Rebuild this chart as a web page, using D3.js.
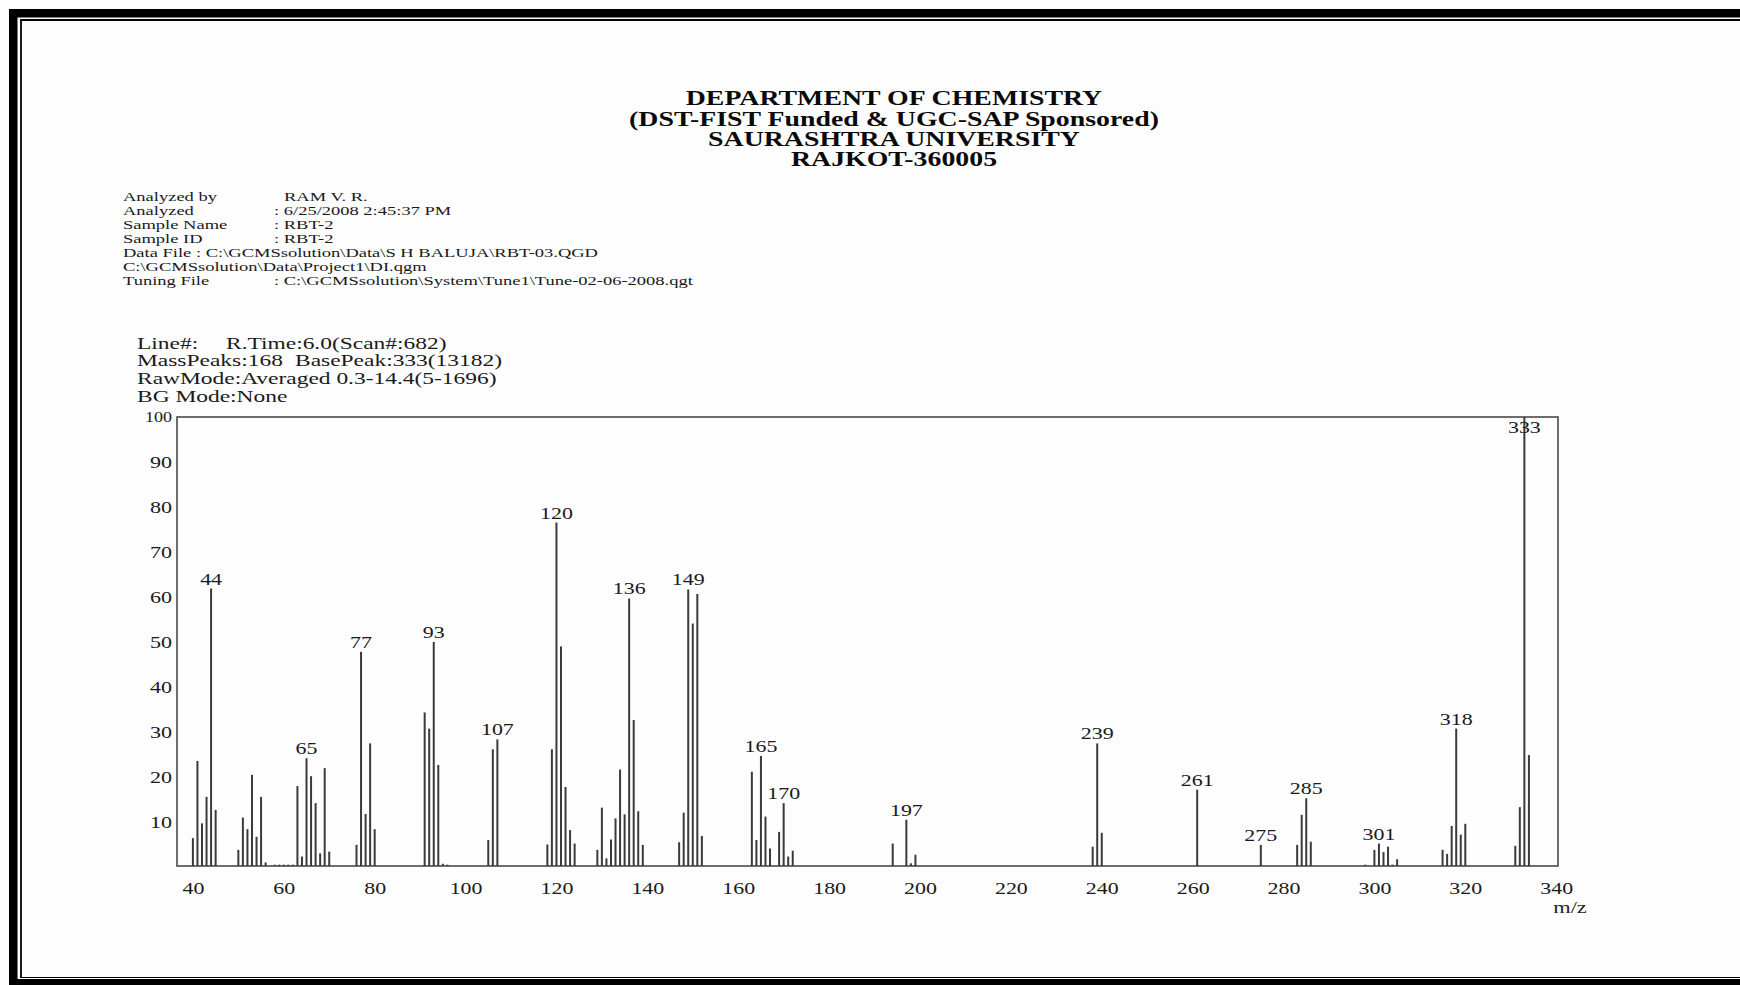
<!DOCTYPE html>
<html>
<head>
<meta charset="utf-8">
<script src="https://cdn.jsdelivr.net/npm/d3@7"></script>
<style>
  html, body { margin: 0; padding: 0; background: #fdfdfd; }
  svg { display: block; }
</style>
</head>
<body>
<svg id="chart" width="1740" height="985"></svg>
<script>
// ---- Mass spectrum of RBT-2 (relative intensity, %) ----
const massNumbers = [
  40, 41, 42, 43, 44, 45,
  50, 51, 52, 53, 54, 55, 56, 58, 59, 60, 61, 62,
  63, 64, 65, 66, 67, 68, 69, 70,
  76, 77, 78, 79, 80,
  91, 92, 93, 94, 95, 96,
  105, 106, 107,
  118, 119, 120, 121, 122, 123, 124,
  129, 130, 131, 132, 133, 134, 135, 136, 137, 138, 139,
  147, 148, 149, 150, 151, 152,
  163, 164, 165, 166, 167, 169, 170, 171, 172,
  194, 197, 198, 199,
  238, 239, 240,
  261,
  275,
  283, 284, 285, 286,
  298, 300, 301, 302, 303, 304, 305,
  315, 316, 317, 318, 319, 320,
  331, 332, 333, 334
];
const intensities = [
  6.2, 23.4, 9.5, 15.4, 61.8, 12.5,
  3.6, 10.8, 8.2, 20.3, 6.5, 15.4, 0.8, 0.3, 0.3, 0.3, 0.3, 0.3,
  17.8, 2.1, 24.0, 20.0, 14.0, 2.8, 21.8, 3.2,
  4.7, 47.7, 11.6, 27.3, 8.2,
  34.2, 30.6, 49.9, 22.5, 0.5, 0.3,
  5.8, 26.0, 28.2,
  4.8, 26.0, 76.5, 48.9, 17.6, 8.0, 5.0,
  3.6, 13.0, 1.7, 5.9, 10.6, 21.5, 11.5, 59.6, 32.5, 12.2, 4.7,
  5.3, 11.9, 61.6, 54.0, 60.6, 6.7,
  21.0, 5.8, 24.5, 11.0, 3.9, 7.6, 14.0, 2.1, 3.4,
  5.0, 10.3, 0.6, 2.5,
  4.3, 27.3, 7.4,
  17.0,
  4.7,
  4.7, 11.4, 15.1, 5.4,
  0.3, 3.6, 5.0, 3.1, 4.3, 0.3, 1.5,
  3.6, 2.7, 8.9, 30.6, 7.0, 9.4,
  4.5, 13.1, 100, 24.7
];
const labelledPeaks = [44, 65, 77, 93, 107, 120, 136, 149, 165, 170, 197, 239, 261, 275, 285, 301, 318, 333];
const xTickValues = [40, 60, 80, 100, 120, 140, 160, 180, 200, 220, 240, 260, 280, 300, 320, 340];
const yTickValues = [10, 20, 30, 40, 50, 60, 70, 80, 90, 100];
const xAxisTitle = "m/z";

// ---- Report header texts ----
const titleLines = [
  "DEPARTMENT OF CHEMISTRY",
  "(DST-FIST Funded & UGC-SAP Sponsored)",
  "SAURASHTRA UNIVERSITY",
  "RAJKOT-360005"
];
const hiddenCaption = "Sample Information";
const infoLabels = ["Analyzed by", "Analyzed", "Sample Name", "Sample ID",
  "Data File : C:\\GCMSsolution\\Data\\S H BALUJA\\RBT-03.QGD",
  "C:\\GCMSsolution\\Data\\Project1\\DI.qgm", "Tuning File"];
const infoValues = ["RAM V. R.", ": 6/25/2008 2:45:37 PM", ": RBT-2", ": RBT-2", "", "",
  ": C:\\GCMSsolution\\System\\Tune1\\Tune-02-06-2008.qgt"];
const scanLine1 = ["Line#:", "R.Time:6.0(Scan#:682)"];
const scanLine2 = ["MassPeaks:168", "BasePeak:333(13182)"];
const scanLines = ["RawMode:Averaged 0.3-14.4(5-1696)", "BG Mode:None"];

// ---- Layout ----
const W = 1740, H = 985;
const plot = { left: 177, right: 1558, top: 417, bottom: 866 };
const SERIF = "'Liberation Serif', 'Times New Roman', Times, serif";

const svg = d3.select("#chart");
svg.append("rect").attr("width", W).attr("height", H).attr("fill", "#fdfdfd");

// Horizontally stretched print-style text
function ptext(parent, str, x, y, o) {
  return parent.append("text")
    .attr("transform", `translate(${x},${y}) scale(${o.sx || 1},1)`)
    .attr("text-anchor", o.anchor || "start")
    .attr("fill", o.fill || "#111")
    .style("font-family", o.family || SERIF)
    .style("font-size", (o.size || 16) + "px")
    .style("font-weight", o.weight || "normal")
    .text(str);
}

// ---- Page border ----
const border = svg.append("g");
border.append("rect").attr("x", 9).attr("y", 9).attr("width", W - 9).attr("height", 8.5).attr("fill", "#000");
border.append("rect").attr("x", 9).attr("y", 9).attr("width", 8.5).attr("height", H - 9).attr("fill", "#000");
border.append("rect").attr("x", 9).attr("y", 979).attr("width", W - 9).attr("height", 6).attr("fill", "#000");
border.append("line").attr("x1", 20).attr("x2", W).attr("y1", 20).attr("y2", 20).attr("stroke", "#000").attr("stroke-width", 1.8);
border.append("line").attr("x1", 21).attr("x2", 21).attr("y1", 20).attr("y2", 978).attr("stroke", "#000").attr("stroke-width", 1.8);
border.append("line").attr("x1", 20).attr("x2", W).attr("y1", 977.5).attr("y2", 977.5).attr("stroke", "#000").attr("stroke-width", 1.2);

// ---- Title block ----
const head = svg.append("g");
svg.append("clipPath").attr("id", "capClip").append("rect")
  .attr("x", 700).attr("y", 170).attr("width", 400).attr("height", 10);
ptext(head, hiddenCaption, 902, 179, { size: 13, sx: 1.37, anchor: "middle", fill: "#8a8a8a" })
  .attr("clip-path", "url(#capClip)");
const titleY = [105, 125.5, 146, 166];
titleLines.forEach((t, i) => {
  ptext(head, t, 894, titleY[i], { size: 22, weight: "bold", sx: 1.265, anchor: "middle", fill: "#0a0a0a" });
});

// ---- Sample information ----
const info = svg.append("g");
infoLabels.forEach((t, i) => {
  const y = 201 + 14 * i;
  ptext(info, t, 123, y, { size: 13.5, sx: 1.37, fill: "#1a1a1a" });
  if (infoValues[i]) {
    const vx = infoValues[i].startsWith(":") ? 274 : 284;
    ptext(info, infoValues[i], vx, y, { size: 13.5, sx: 1.37, fill: "#1a1a1a" });
  }
});

// ---- Scan information ----
const scan = svg.append("g");
ptext(scan, scanLine1[0], 137, 348.5, { size: 17, sx: 1.38, fill: "#1a1a1a" });
ptext(scan, scanLine1[1], 226, 348.5, { size: 17, sx: 1.38, fill: "#1a1a1a" });
ptext(scan, scanLine2[0], 137, 366, { size: 17, sx: 1.38, fill: "#1a1a1a" });
ptext(scan, scanLine2[1], 295, 366, { size: 17, sx: 1.38, fill: "#1a1a1a" });
scanLines.forEach((t, i) => ptext(scan, t, 137, 384 + 18 * i, { size: 17, sx: 1.38, fill: "#1a1a1a" }));

// ---- Scales ----
const x = d3.scaleLinear().domain([36.5, 340.4]).range([plot.left, plot.right]);
const y = d3.scaleLinear().domain([0, 100]).range([plot.bottom, plot.top]);

// ---- Plot frame ----
const frame = svg.append("g");
frame.append("rect")
  .attr("x", plot.left).attr("y", plot.top)
  .attr("width", plot.right - plot.left).attr("height", plot.bottom - plot.top)
  .attr("fill", "none").attr("stroke", "#4a4a4a").attr("stroke-width", 1.6);

// ---- Axes (labels only, no tick marks) ----
const xAxis = d3.axisBottom(x).tickValues(xTickValues).tickSize(0).tickPadding(0).tickFormat(d3.format("d"));
const gx = svg.append("g").attr("transform", `translate(0,${plot.bottom})`).call(xAxis);
gx.select(".domain").remove();
gx.selectAll(".tick text").remove();
gx.selectAll(".tick").each(function (d) {
  ptext(d3.select(this), String(d), 0, 27.5, { size: 17, sx: 1.29, anchor: "middle", fill: "#1a1a1a" });
});

const yAxis = d3.axisLeft(y).tickValues(yTickValues).tickSize(0).tickPadding(0);
const gy = svg.append("g").attr("transform", `translate(${plot.left - 5},0)`).call(yAxis);
gy.select(".domain").remove();
gy.selectAll(".tick text").remove();
gy.selectAll(".tick").each(function (d) {
  const big = d === 100;
  ptext(d3.select(this), String(d), 0, big ? 4 : 6, { size: big ? 15 : 17, sx: big ? 1.2 : 1.3, anchor: "end", fill: "#1a1a1a" });
});

ptext(svg, xAxisTitle, 1570, 913, { size: 16, sx: 1.4, anchor: "middle", fill: "#222" });

// ---- Peaks ----
const peaks = massNumbers.map((m, i) => ({ mz: m, value: intensities[i] }));
svg.append("g").selectAll("line.peak")
  .data(peaks)
  .join("line")
  .attr("class", "peak")
  .attr("x1", d => x(d.mz)).attr("x2", d => x(d.mz))
  .attr("y1", y(0)).attr("y2", d => y(d.value))
  .attr("stroke", "#3a3a3a")
  .attr("stroke-width", 2);

// ---- Peak labels ----
const labels = svg.append("g");
peaks.filter(d => labelledPeaks.includes(d.mz)).forEach(d => {
  const ly = Math.max(y(d.value) - 4, plot.top + 16);
  ptext(labels, String(d.mz), x(d.mz), ly, { size: 17, sx: 1.29, anchor: "middle", fill: "#1a1a1a" });
});
</script>
</body>
</html>
